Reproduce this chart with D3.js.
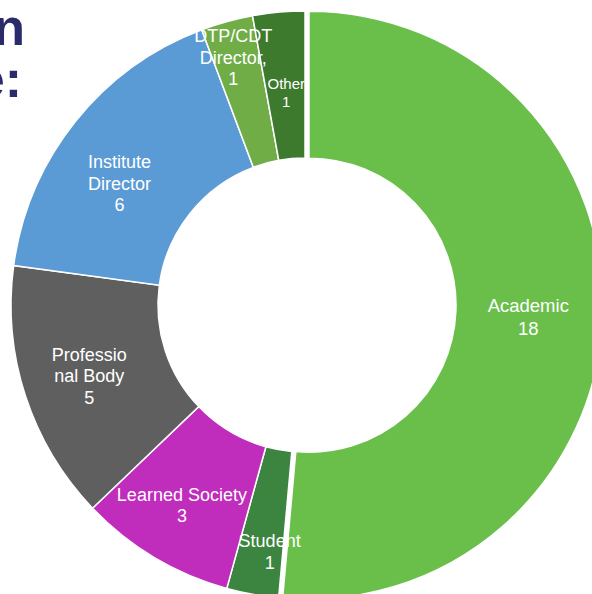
<!DOCTYPE html>
<html>
<head>
<meta charset="utf-8">
<script src="https://cdnjs.cloudflare.com/ajax/libs/d3/7.8.5/d3.min.js"></script>
<style>
  html, body { margin: 0; padding: 0; background: #fff; }
  svg { display: block; }
  text { font-family: Arial, "Liberation Sans", sans-serif; }
</style>
</head>
<body>
<div id="chart"></div>
<script>
// data
var categories = ["Academic", "Student", "Learned Society", "Professional Body",
                  "Institute Director", "DTP/CDT Director", "Other"];
var counts = [18, 1, 3, 5, 6, 1, 1];
var labelLines = [
    ["Academic", "18"],
    ["Student", "1"],
    ["Learned Society", "3"],
    ["Professio", "nal Body", "5"],
    ["Institute", "Director", "6"],
    ["DTP/CDT", "Director,", "1"],
    ["Other", "1"]
];
var colors = ["#6abf4b", "#3b8540", "#c02cbb", "#5f5f5f", "#5b9bd5", "#70ad47", "#3d7a2e"];

// cropped title (only the tail of it shows)
var titleTails = ["n", "e:"];

// layout
var width = 592, height = 594;
var cx = 305, cy = 305;
var outerR = 294, innerR = 147;
var explode = 4; // first slice pulled out a little
// small label nudges [dx, dy] so labels sit where the original placed them
var labelNudge = [[-1, 2], [4, 30], [-10, 11], [-6, 3], [-13, 16], [-13, -35], [1, 7]];
var labelSize = [18.5, 18, 18, 18, 18, 18, 15];

var data = categories.map(function (c, i) {
    return { name: c, value: counts[i], lines: labelLines[i], color: colors[i], i: i };
});

var svg = d3.select("#chart").append("svg")
    .attr("width", width)
    .attr("height", height);

// title fragments
svg.selectAll(".title")
    .data(titleTails)
    .enter().append("text")
    .attr("class", "title")
    .attr("x", function (d, i) { return i === 0 ? 25 : 22; })
    .attr("y", function (d, i) { return 45 + i * 52; })
    .attr("text-anchor", "end")
    .attr("font-size", 52)
    .attr("font-weight", "bold")
    .attr("fill", "#2b2a6b")
    .text(function (d) { return d; });

var pie = d3.pie()
    .sort(null)
    .value(function (d) { return d.value; });

var arc = d3.arc()
    .innerRadius(innerR)
    .outerRadius(outerR);

var labelArc = d3.arc()
    .innerRadius((innerR + outerR) / 2)
    .outerRadius((innerR + outerR) / 2);

var arcs = pie(data);

var g = svg.append("g")
    .attr("transform", "translate(" + cx + "," + cy + ")");

function shift(d) {
    if (d.data.i !== 0) return [0, 0];
    var a = (d.startAngle + d.endAngle) / 2;
    return [Math.sin(a) * explode, -Math.cos(a) * explode];
}

g.selectAll(".slice")
    .data(arcs)
    .enter().append("path")
    .attr("class", "slice")
    .attr("d", arc)
    .attr("transform", function (d) { var s = shift(d); return "translate(" + s[0] + "," + s[1] + ")"; })
    .attr("fill", function (d) { return d.data.color; })
    .attr("stroke", "#fff")
    .attr("stroke-width", 1.5);

var labels = g.selectAll(".lbl")
    .data(arcs)
    .enter().append("text")
    .attr("class", "lbl")
    .attr("fill", "#fff")
    .attr("text-anchor", "middle")
    .attr("font-size", function (d) { return labelSize[d.data.i]; })
    .attr("transform", function (d) {
        var c = labelArc.centroid(d), s = shift(d), n = labelNudge[d.data.i];
        return "translate(" + (c[0] + s[0] + n[0]) + "," + (c[1] + s[1] + n[1]) + ")";
    });

labels.each(function (d) {
    var size = labelSize[d.data.i];
    var lh = size * 1.2;
    var lines = d.data.lines;
    var top = -(lines.length - 1) * lh / 2 + size * 0.35;
    d3.select(this).selectAll("tspan")
        .data(lines)
        .enter().append("tspan")
        .attr("x", 0)
        .attr("y", function (t, k) { return top + k * lh; })
        .text(function (t) { return t; });
});
</script>
</body>
</html>
